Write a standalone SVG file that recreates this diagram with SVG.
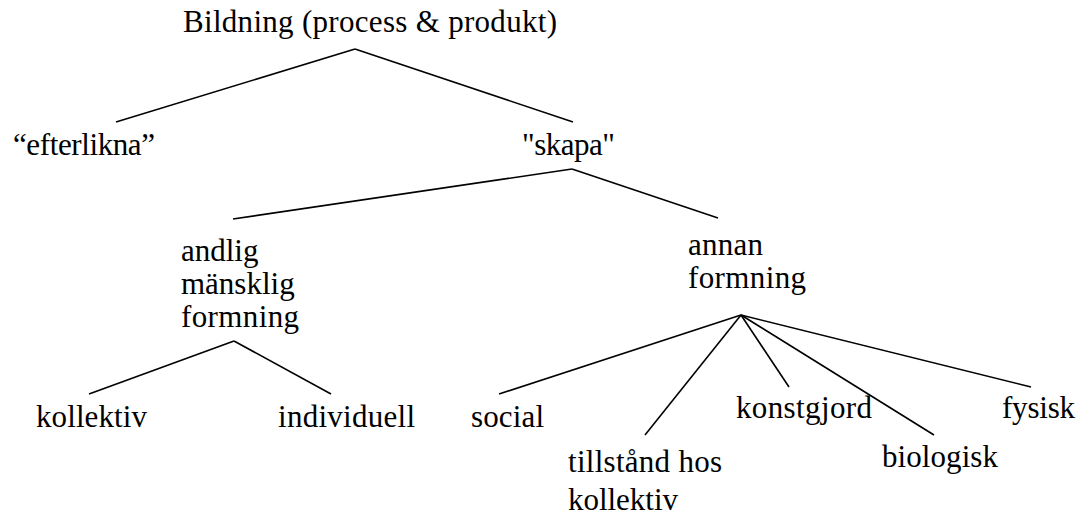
<svg xmlns="http://www.w3.org/2000/svg" width="1079" height="516" viewBox="0 0 1079 516">
<style>
text{font-family:'Liberation Serif','Tinos','Times New Roman',serif;font-size:31px;fill:#000}
.c line{stroke:#000;stroke-width:1.6;stroke-linecap:butt}
</style>
<rect width="1079" height="516" fill="#fff"/>
<g class="c" id="connectors">
<line x1="355" y1="49" x2="116" y2="122"/>
<line x1="355" y1="49" x2="573" y2="122"/>
<line x1="572" y1="169" x2="233" y2="219"/>
<line x1="572" y1="169" x2="718" y2="218"/>
<line x1="234" y1="341" x2="89" y2="394"/>
<line x1="234" y1="341" x2="331" y2="394"/>
<line x1="741" y1="315" x2="499" y2="394"/>
<line x1="741" y1="315" x2="645" y2="435"/>
<line x1="741" y1="315" x2="789" y2="387"/>
<line x1="741" y1="315" x2="934" y2="435"/>
<line x1="741" y1="315" x2="1031" y2="387"/>
</g>
<g id="n-bildning"><text x="183" y="32" textLength="374">Bildning (process &amp; produkt)</text></g>
<g id="n-efterlikna"><text x="13" y="155" textLength="142">“efterlikna”</text></g>
<g id="n-skapa"><text x="522" y="155" textLength="93">"skapa"</text></g>
<g id="n-andlig"><text x="181" y="261">andlig</text><text x="181" y="294">mänsklig</text><text x="181" y="327" textLength="118">formning</text></g>
<g id="n-annan"><text x="688" y="255" textLength="75">annan</text><text x="688" y="288" textLength="118">formning</text></g>
<g id="n-kollektiv"><text x="36" y="427" textLength="111">kollektiv</text></g>
<g id="n-individuell"><text x="278" y="427" textLength="137">individuell</text></g>
<g id="n-social"><text x="471" y="427" textLength="73">social</text></g>
<g id="n-tillstand"><text x="568" y="472" textLength="154">tillstånd hos</text><text x="568" y="510" textLength="110">kollektiv</text></g>
<g id="n-konstgjord"><text x="736" y="418" textLength="136">konstgjord</text></g>
<g id="n-biologisk"><text x="882" y="467" textLength="116">biologisk</text></g>
<g id="n-fysisk"><text x="1002" y="418" textLength="73">fysisk</text></g>
</svg>
